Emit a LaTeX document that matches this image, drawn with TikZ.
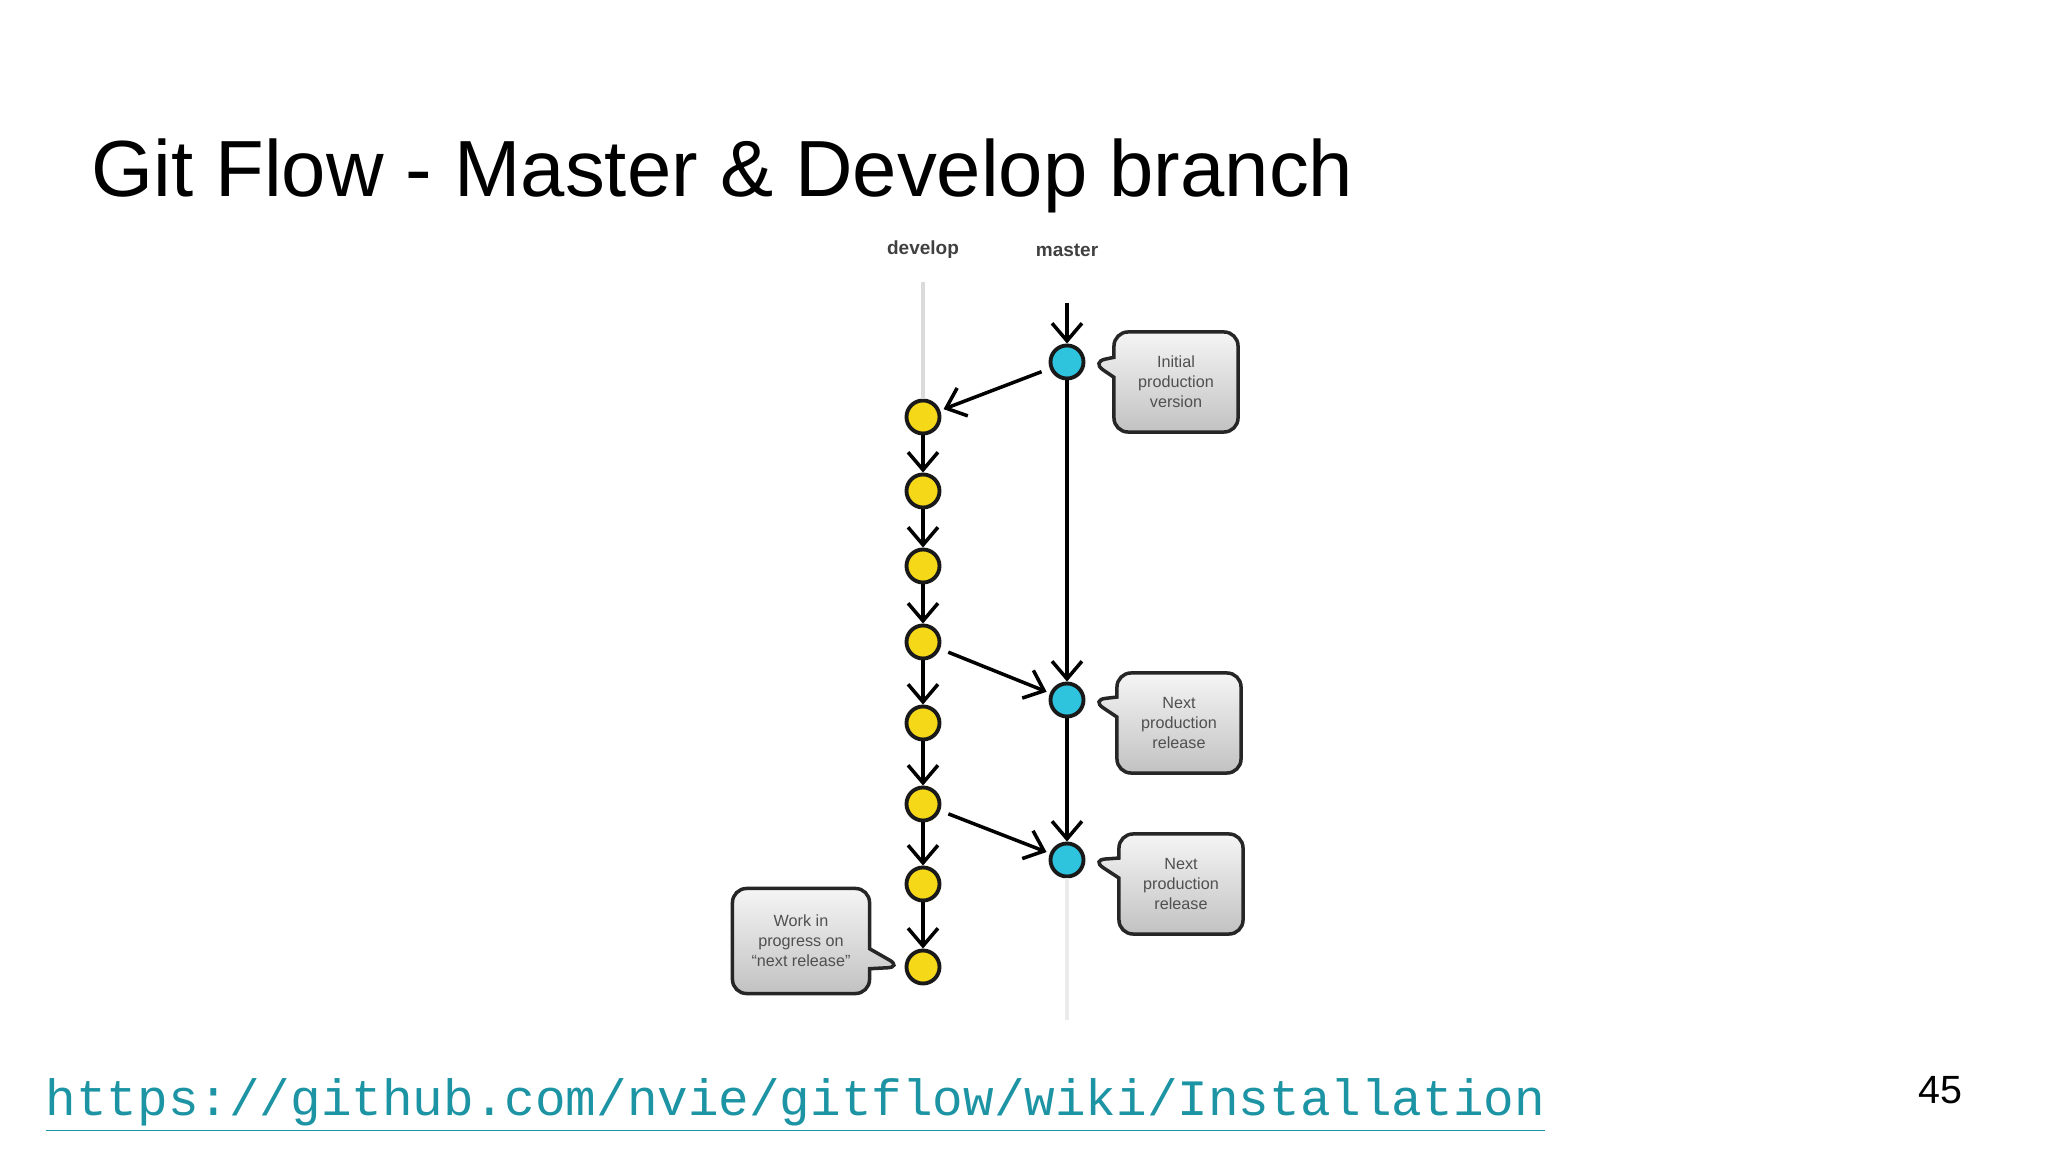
\documentclass[tikz,border=0pt]{standalone}
\usepackage{fontspec}
\setmainfont{Liberation Sans}
\setmonofont{Liberation Mono}
\usepackage{tikz}
\usetikzlibrary{arrows.meta,positioning,calc,shapes.callouts}
\usepackage{xcolor}
\definecolor{devyellow}{RGB}{245,216,24}
\definecolor{mastblue}{RGB}{46,196,222}
\definecolor{linkteal}{RGB}{28,148,164}
\definecolor{notetext}{RGB}{80,80,80}
\tikzset{
  commit/.style={circle,draw=black!90,line width=1.1pt,minimum size=0.33cm,inner sep=0pt},
  flow/.style={line width=1pt,-{Straight Barb[length=5pt,width=8.5pt]}},
  note/.style={rectangle callout,draw=black!85,line width=1pt,rounded corners=4pt,
    top color=black!4,bottom color=black!24,callout pointer width=0.2cm,
    align=center,text=notetext,font=\fontsize{4.6}{5.7}\selectfont,
    minimum width=1.24cm,minimum height=1cm}
}

\begin{document}
\begin{tikzpicture}[x=0.01cm,y=-0.01cm]
\useasboundingbox (0,0) rectangle (2048,1152);
\node[anchor=base west,inner sep=0pt,font=\fontsize{22.65}{27}\selectfont] (title) at (91,197) {Git Flow - Master \& Develop branch};
\node[font=\bfseries\fontsize{5.4}{6.5}\selectfont,text=black!75] (devlabel) at (923,250) {develop};
\node[font=\bfseries\fontsize{5.4}{6.5}\selectfont,text=black!75] (mastlabel) at (1067,250) {master};
\coordinate (devtop) at (923,282);
\coordinate (masttop) at (1067,303);
\coordinate (mastend) at (1067,1020);
\node[commit,fill=devyellow] (d1) at (923,417) {};
\node[commit,fill=devyellow] (d2) at (923,491) {};
\node[commit,fill=devyellow] (d3) at (923,566) {};
\node[commit,fill=devyellow] (d4) at (923,642) {};
\node[commit,fill=devyellow] (d5) at (923,723) {};
\node[commit,fill=devyellow] (d6) at (923,804) {};
\node[commit,fill=devyellow] (d7) at (923,884) {};
\node[commit,fill=devyellow] (d8) at (923,967) {};
\node[commit,fill=mastblue] (m1) at (1067,362) {};
\node[commit,fill=mastblue] (m2) at (1067,700) {};
\node[commit,fill=mastblue] (m3) at (1067,860) {};
\draw[black!14,line width=1.2pt] (devtop) -- (d1);
\draw[black!8,line width=1.2pt] (m3) -- (mastend);
\draw[flow] (d1) -- (d2);
\draw[flow] (d2) -- (d3);
\draw[flow] (d3) -- (d4);
\draw[flow] (d4) -- (d5);
\draw[flow] (d5) -- (d6);
\draw[flow] (d6) -- (d7);
\draw[flow] (d7) -- (d8);
\draw[flow] (masttop) -- (m1);
\draw[flow] (m1) -- (m2);
\draw[flow] (m2) -- (m3);
\draw[flow,shorten <=2.5pt,shorten >=1pt] (m1) -- (d1);
\draw[flow,shorten <=2.5pt,shorten >=1pt] (d4) -- (m2);
\draw[flow,shorten <=2.5pt,shorten >=1pt] (d6) -- (m3);
\node[note,callout absolute pointer={($(m1.east)+(6,0)$)}] (initnote) at (1176,382) {Initial\\production\\version};
\node[note,callout absolute pointer={($(m2.east)+(6,0)$)}] (nextnote) at (1179,723) {Next\\production\\release};
\node[note,callout absolute pointer={($(m3.east)+(6,0)$)}] (latenote) at (1181,884) {Next\\production\\release};
\node[note,minimum width=1.37cm,minimum height=1.05cm,callout absolute pointer={($(d8.west)+(-3,0)$)}] (worknote) at (801,941) {Work in\\progress on\\“next release”};
\node[anchor=base west,inner sep=0pt,font=\ttfamily\fontsize{14.5}{17}\selectfont,text=linkteal] (url) at (45,1115) {\underline{https://github.com/nvie/gitflow/wiki/Installation}};
\node[anchor=base,inner sep=0pt,font=\fontsize{11.2}{13}\selectfont] (pagenum) at (1940,1103) {45};
\end{tikzpicture}
\end{document}
